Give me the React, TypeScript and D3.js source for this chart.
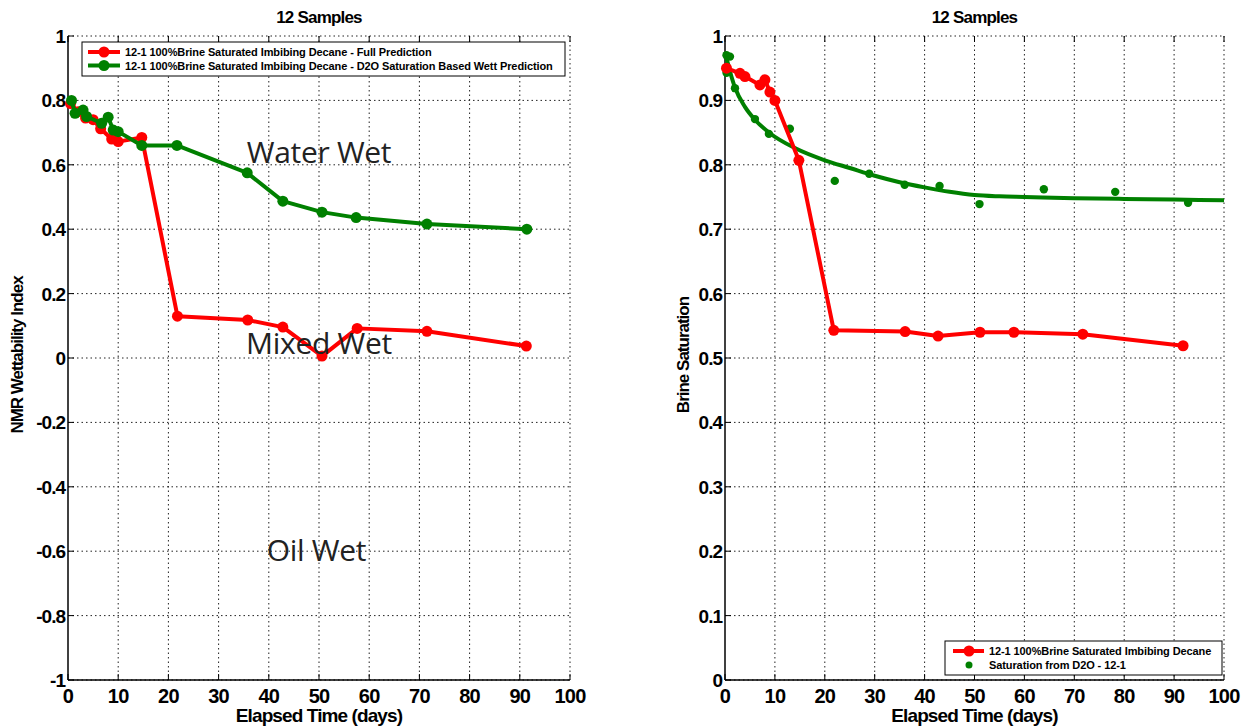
import React, { useEffect, useRef } from "react";
import * as d3 from "d3";

// left panel: wettability index
const leftRedDays = [0.5, 2, 3.5, 5, 6.5, 8.7, 10, 14.7, 21.8, 35.8, 42.8, 50.6, 57.6, 71.5, 91.3];
const leftRedIdx = [0.79, 0.765, 0.745, 0.74, 0.712, 0.68, 0.672, 0.685, 0.13, 0.118, 0.096, 0.006, 0.092, 0.083, 0.037];
const leftGreenDays = [0.7, 1.4, 3.0, 3.7, 6.7, 8.0, 9.0, 10, 14.7, 21.7, 35.7, 42.8, 50.6, 57.4, 71.5, 91.4];
const leftGreenIdx = [0.8, 0.76, 0.77, 0.75, 0.729, 0.748, 0.708, 0.703, 0.66, 0.66, 0.575, 0.487, 0.453, 0.436, 0.416, 0.4];

// right panel: brine saturation
const rightRedDays = [0.3, 3, 4, 7, 8, 9, 10, 14.8, 21.8, 36.1, 42.7, 51.1, 57.9, 71.7, 91.8];
const rightRedSat = [0.95, 0.942, 0.937, 0.924, 0.932, 0.913, 0.9, 0.807, 0.543, 0.541, 0.534, 0.54, 0.54, 0.537, 0.519];
const d2oDays = [0.3, 1, 0.3, 2, 6, 8.8, 13, 22, 28.9, 36, 43, 51, 63.9, 78.2, 92.8];
const d2oSat = [0.97, 0.968, 0.943, 0.919, 0.871, 0.848, 0.856, 0.775, 0.786, 0.769, 0.767, 0.739, 0.762, 0.758, 0.741];
const fitDays = [0, 1, 2, 4, 6, 9, 14, 20, 25, 30, 35, 40, 45, 50, 55, 60, 70, 80, 90, 100];
const fitSat = [0.975, 0.945, 0.92, 0.89, 0.87, 0.849, 0.826, 0.807, 0.795, 0.783, 0.773, 0.765, 0.758, 0.753, 0.751, 0.75, 0.748, 0.747, 0.746, 0.745];

const xTicks = [0, 10, 20, 30, 40, 50, 60, 70, 80, 90, 100];
const leftYTicks = [1, 0.8, 0.6, 0.4, 0.2, 0, -0.2, -0.4, -0.6, -0.8, -1];
const rightYTicks = [0, 0.1, 0.2, 0.3, 0.4, 0.5, 0.6, 0.7, 0.8, 0.9, 1];

const zones = [
  { label: "Water Wet", day: 50, idx: 0.606 },
  { label: "Mixed Wet", day: 50, idx: 0.012 },
  { label: "Oil Wet", day: 49.5, idx: -0.63 },
];

const RED = "#ff0000";
const GREEN = "#008000";
const FONT = "'Liberation Sans', Arial, sans-serif";

export default function App() {
  const ref = useRef<SVGSVGElement>(null);

  useEffect(() => {
    document.body.style.margin = "0";
    const svg = d3.select(ref.current);
    svg.selectAll("*").remove();

    const panel = (x0: number, x1: number, yDomain: [number, number], yTicks: number[], yLabel: string, yLabelX: number) => {
      const x = d3.scaleLinear().domain([0, 100]).range([x0, x1]);
      const y = d3.scaleLinear().domain(yDomain).range([680, 36]);
      const g = svg.append("g");

      g.append("rect").attr("x", x0).attr("y", 36).attr("width", x1 - x0).attr("height", 644).style("fill", "white");

      // dotted grid
      g.selectAll(".vg").data(xTicks.slice(1)).enter().append("line")
        .attr("x1", d => x(d)).attr("x2", d => x(d)).attr("y1", 36).attr("y2", 680)
        .style("stroke", "#222").style("stroke-dasharray", "1.5,3").style("stroke-width", 1);
      g.selectAll(".hg").data(yTicks).enter().append("line")
        .attr("x1", x0).attr("x2", x1).attr("y1", d => y(d)).attr("y2", d => y(d))
        .style("stroke", "#222").style("stroke-dasharray", "1.5,3").style("stroke-width", 1);

      // ticks inside box
      g.selectAll(".xt").data(xTicks).enter().append("line")
        .attr("x1", d => x(d)).attr("x2", d => x(d)).attr("y1", 680).attr("y2", 674)
        .style("stroke", "#000");
      g.selectAll(".xt2").data(xTicks).enter().append("line")
        .attr("x1", d => x(d)).attr("x2", d => x(d)).attr("y1", 36).attr("y2", 42)
        .style("stroke", "#000");
      g.selectAll(".yt").data(yTicks).enter().append("line")
        .attr("x1", x0).attr("x2", x0 + 6).attr("y1", d => y(d)).attr("y2", d => y(d))
        .style("stroke", "#000");

      // axes
      g.append("line").attr("x1", x0).attr("x2", x0).attr("y1", 36).attr("y2", 680).style("stroke", "#000").style("stroke-width", 1.5);
      g.append("line").attr("x1", x0).attr("x2", x1).attr("y1", 680).attr("y2", 680).style("stroke", "#000").style("stroke-width", 1.5);

      // tick labels
      g.selectAll(".xl").data(xTicks).enter().append("text")
        .attr("x", d => x(d)).attr("y", 703).attr("text-anchor", "middle")
        .style("font-family", FONT).style("font-weight", "bold").style("font-size", "20px").style("letter-spacing", "-0.8px")
        .text(d => String(d));
      g.selectAll(".yl").data(yTicks).enter().append("text")
        .attr("x", x0 - 3).attr("y", d => y(d) + 7).attr("text-anchor", "end")
        .style("font-family", FONT).style("font-weight", "bold").style("font-size", "19px").style("letter-spacing", "-1px")
        .text(d => String(d));

      g.append("text").attr("x", (x0 + x1) / 2).attr("y", 722).attr("text-anchor", "middle")
        .style("font-family", FONT).style("font-weight", "bold").style("font-size", "19px").style("letter-spacing", "-0.9px")
        .text("Elapsed Time (days)");
      g.append("text").attr("x", (x0 + x1) / 2).attr("y", 23).attr("text-anchor", "middle")
        .style("font-family", FONT).style("font-weight", "bold").style("font-size", "17px").style("letter-spacing", "-0.8px")
        .text("12 Samples");
      g.append("text").attr("transform", `translate(${yLabelX},355) rotate(-90)`).attr("text-anchor", "middle")
        .style("font-family", FONT).style("font-weight", "bold").style("font-size", "17px").style("letter-spacing", "-1px")
        .text(yLabel);

      return { g, x, y };
    };

    const series = (g: any, x: any, y: any, xs: number[], ys: number[], color: string, r: number, curve: any, lineW: number, markers: boolean) => {
      const pts = xs.map((d, i) => [d, ys[i]] as [number, number]);
      if (lineW > 0) {
        const line = d3.line<[number, number]>().x(d => x(d[0])).y(d => y(d[1])).curve(curve);
        g.append("path").attr("d", line(pts)).style("fill", "none").style("stroke", color)
          .style("stroke-width", lineW).style("stroke-linejoin", "round");
      }
      if (markers) {
        g.selectAll(null).data(pts).enter().append("circle")
          .attr("cx", (d: any) => x(d[0])).attr("cy", (d: any) => y(d[1])).attr("r", r).style("fill", color);
      }
    };

    // left
    const L = panel(68, 570, [-1, 1], leftYTicks, "NMR Wettability Index", 23);
    series(L.g, L.x, L.y, leftRedDays, leftRedIdx, RED, 5.5, d3.curveLinear, 4, true);
    series(L.g, L.x, L.y, leftGreenDays, leftGreenIdx, GREEN, 5.5, d3.curveLinear, 4, true);
    L.g.selectAll(".zone").data(zones).enter().append("text")
      .attr("x", d => L.x(d.day)).attr("y", d => L.y(d.idx)).attr("text-anchor", "middle")
      .style("font-family", "'Open Sans', 'Noto Sans', sans-serif").style("font-size", "30px").style("fill", "#222")
      .style("letter-spacing", "-0.3px")
      .text(d => d.label);

    // left legend
    const lg = L.g.append("g");
    lg.append("rect").attr("x", 82).attr("y", 42).attr("width", 483).attr("height", 34)
      .style("fill", "white").style("stroke", "#000").style("stroke-width", 1);
    [["12-1 100%Brine Saturated Imbibing Decane - Full Prediction", RED], ["12-1 100%Brine Saturated Imbibing Decane - D2O Saturation Based Wett Prediction", GREEN]]
      .forEach(([t, c], i) => {
        const yy = 52 + i * 13.5;
        lg.append("line").attr("x1", 88).attr("x2", 120).attr("y1", yy).attr("y2", yy).style("stroke", c).style("stroke-width", 4);
        lg.append("circle").attr("cx", 104).attr("cy", yy).attr("r", 5.5).style("fill", c);
        lg.append("text").attr("x", 125).attr("y", yy + 4)
          .style("font-family", FONT).style("font-weight", "bold").style("font-size", "11px").style("letter-spacing", "-0.1px")
          .text(t);
      });

    // right
    const R = panel(725, 1224, [0, 1], rightYTicks, "Brine Saturation", 689);
    series(R.g, R.x, R.y, fitDays, fitSat, GREEN, 0, d3.curveMonotoneX, 4, false);
    series(R.g, R.x, R.y, d2oDays, d2oSat, GREEN, 4.2, d3.curveLinear, 0, true);
    series(R.g, R.x, R.y, rightRedDays, rightRedSat, RED, 5.5, d3.curveLinear, 4, true);

    const rg = R.g.append("g");
    rg.append("rect").attr("x", 945).attr("y", 641).attr("width", 277).attr("height", 34)
      .style("fill", "white").style("stroke", "#000").style("stroke-width", 1);
    rg.append("line").attr("x1", 953).attr("x2", 984).attr("y1", 651).attr("y2", 651).style("stroke", RED).style("stroke-width", 4);
    rg.append("circle").attr("cx", 969).attr("cy", 651).attr("r", 5.5).style("fill", RED);
    rg.append("circle").attr("cx", 969).attr("cy", 665).attr("r", 3.5).style("fill", GREEN);
    rg.append("text").attr("x", 989).attr("y", 655)
      .style("font-family", FONT).style("font-weight", "bold").style("font-size", "11px").style("letter-spacing", "-0.1px")
      .text("12-1 100%Brine Saturated Imbibing Decane");
    rg.append("text").attr("x", 989).attr("y", 669)
      .style("font-family", FONT).style("font-weight", "bold").style("font-size", "11px").style("letter-spacing", "-0.1px")
      .text("Saturation from D2O - 12-1");
  }, []);

  return <svg ref={ref} width={1246} height={727} style={{ display: "block", background: "white" }}></svg>;
}
